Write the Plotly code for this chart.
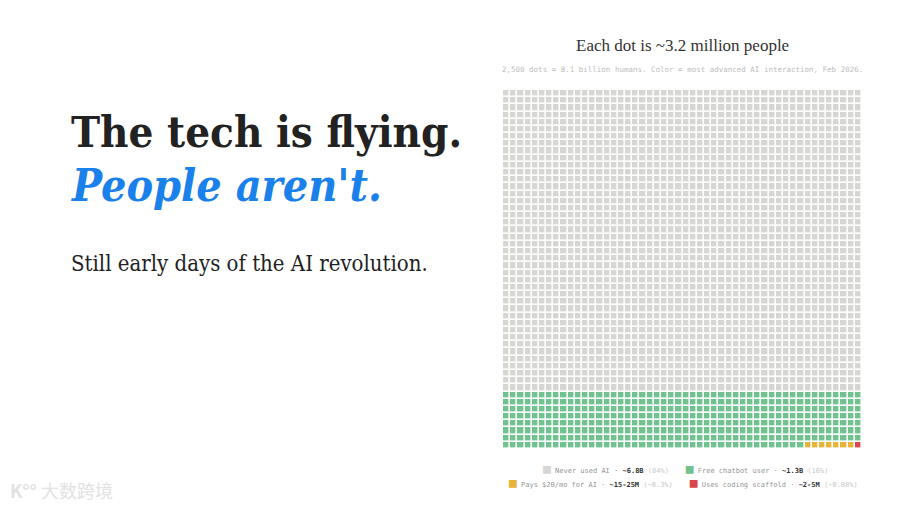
import numpy as np
import plotly.graph_objects as go

# 2,500 dots, each ~3.2M people
categories = ["Never used AI", "Free chatbot user", "Pays $20/mo for AI", "Uses coding scaffold"]
dot_counts = [2100, 392, 7, 1]
amounts = ["~6.8B", "~1.3B", "~15-25M", "~2-5M"]
shares = ["84%", "16%", "~0.3%", "~0.08%"]
colors = ["#d6d6d3", "#70c28e", "#e6b43a", "#d9474b"]
grid_size = 50

cells = np.repeat(np.arange(len(categories)), dot_counts)
z = cells.reshape(grid_size, grid_size)

n = len(categories)
scale = []
for i, c in enumerate(colors):
    scale.append([i / n, c])
    scale.append([(i + 1) / n, c])

fig = go.Figure(go.Heatmap(
    z=z,
    zmin=-0.5, zmax=n - 0.5,
    colorscale=scale,
    showscale=False,
    xgap=1.6, ygap=1.6,
    hoverinfo="skip",
))

fig.update_xaxes(domain=[503 / 900, 862 / 900], visible=False, fixedrange=True)
fig.update_yaxes(domain=[1 - 449 / 507, 1 - 90 / 507], visible=False,
                 autorange="reversed", fixedrange=True)

serif = "DejaVu Serif Condensed"
mono = "DejaVu Sans Mono"

def legend_item(i):
    return (f"<span style='color:{colors[i]};font-size:13px'>■</span> "
            f"<span style='color:#959595'>{categories[i]} · </span>"
            f"<b style='color:#333333'>{amounts[i]}</b> "
            f"<span style='color:#c8c8c8'>({shares[i]})</span>")

annos = [
    dict(text="<b>The tech is flying.</b>", x=69 / 900, y=1 - 131 / 507,
         font=dict(family=serif, size=43.5, color="#222222"), xanchor="left"),
    dict(text="<b><i>People aren't.</i></b>", x=69 / 900, y=1 - 185 / 507,
         font=dict(family=serif, size=44.5, color="#1a80ea"), xanchor="left"),
    dict(text="Still early days of the AI revolution.", x=69 / 900, y=1 - 263 / 507,
         font=dict(family=serif, size=22, color="#222222"), xanchor="left"),
    dict(text="Each dot is ~3.2 million people", x=682.5 / 900, y=1 - 45 / 507,
         font=dict(family="Liberation Serif", size=17, color="#333333"), xanchor="center"),
    dict(text="2,500 dots = 8.1 billion humans. Color = most advanced AI interaction, Feb 2026.",
         x=682.5 / 900, y=1 - 69 / 507,
         font=dict(family=mono, size=7.5, color="#bdbdbd"), xanchor="center"),
    dict(text=legend_item(0) + "    " + legend_item(1), x=685 / 900, y=1 - 468 / 507,
         font=dict(family=mono, size=7, color="#959595"), xanchor="center"),
    dict(text=legend_item(2) + "    " + legend_item(3), x=683 / 900, y=1 - 482 / 507,
         font=dict(family=mono, size=7, color="#959595"), xanchor="center"),
    dict(text="<b>K°°</b> 大数跨境", x=8 / 900, y=1 - 490 / 507,
         font=dict(family="Noto Sans CJK SC", size=18, color="#e2e2e2"), xanchor="left"),
]
for a in annos:
    a.update(xref="paper", yref="paper", yanchor="middle", showarrow=False)

fig.update_layout(
    annotations=annos,
    width=900, height=507,
    margin=dict(l=0, r=0, t=0, b=0),
    paper_bgcolor="white",
    plot_bgcolor="white",
)

fig.write_html("out.html", config={"displayModeBar": False},
               post_script="document.body.style.margin='0';")
